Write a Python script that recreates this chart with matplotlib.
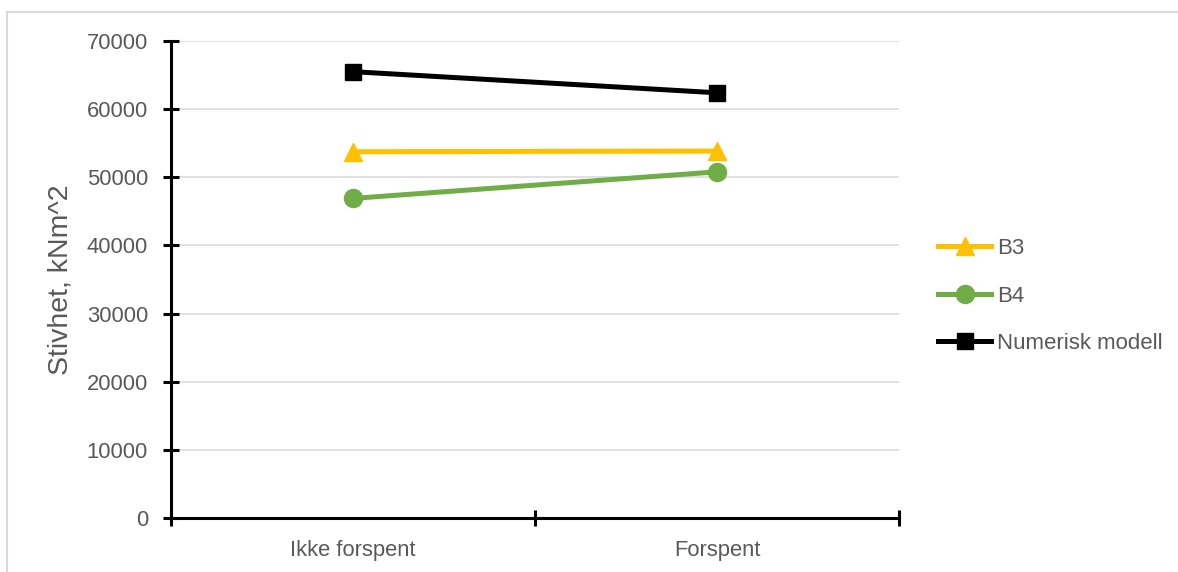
import matplotlib
matplotlib.use("Agg")
import matplotlib.pyplot as plt
from matplotlib.patches import Rectangle

# Data
categories = ["Ikke forspent", "Forspent"]
b3 = [53750, 53850]
b4 = [46900, 50800]
numerisk = [65500, 62400]
series_names = ["B3", "B4", "Numerisk modell"]
y_ticks = [0, 10000, 20000, 30000, 40000, 50000, 60000, 70000]

plt.rcParams["font.family"] = ["Liberation Sans", "DejaVu Sans"]
text_color = "#595959"

fig = plt.figure(figsize=(11.78, 5.72), dpi=100)
ax = fig.add_axes([171 / 1178, 1 - 518 / 572, 728 / 1178, 477 / 572])

# Light frame around the chart area
fig.patches.append(Rectangle((7 / 1178, -0.1), 1.2, 1 - 12 / 572 + 0.1,
                             transform=fig.transFigure, fill=False,
                             edgecolor="#d9d9d9", linewidth=1.5, zorder=0))

x = list(range(len(categories)))
ax.plot(x, b3, color="#ffc000", lw=3.6, marker="^", ms=13, label=series_names[0], zorder=3)
ax.plot(x, b4, color="#70ad47", lw=3.6, marker="o", ms=13, label=series_names[1], zorder=3)
ax.plot(x, numerisk, color="#000000", lw=3.6, marker="s", ms=12, label=series_names[2], zorder=3)

ax.set_xlim(-0.5, 1.5)
ax.set_ylim(0, 70000)
ax.set_yticks(y_ticks)
ax.set_yticklabels([str(v) for v in y_ticks])
ax.set_xticks(x)
ax.set_xticklabels(categories)
ax.set_xticks([-0.5, 0.5, 1.5], minor=True)

ax.grid(axis="y", color="#d9d9d9", lw=1.1, zorder=0)
ax.set_axisbelow(True)

for side in ("top", "right"):
    ax.spines[side].set_visible(False)
for side in ("left", "bottom"):
    ax.spines[side].set_color("black")
    ax.spines[side].set_linewidth(2.2)

ax.tick_params(axis="y", direction="inout", length=11, width=2.2, pad=11,
               labelsize=15.8, labelcolor=text_color, color="black")
ax.tick_params(axis="x", which="major", length=0, pad=16,
               labelsize=15.8, labelcolor=text_color)
ax.tick_params(axis="x", which="minor", direction="inout", length=11, width=2.2,
               color="black")

ax.set_ylabel("Stivhet, kNm^2", fontsize=20.5, color=text_color)
ax.yaxis.set_label_coords(-0.1346, 0.5)

ax.legend(loc="center left", bbox_to_anchor=(938 / 1178, 1 - 296 / 572),
          bbox_transform=fig.transFigure, frameon=False, borderpad=0,
          borderaxespad=0, handlelength=2.4, handletextpad=0.25,
          labelspacing=1.2, fontsize=16, labelcolor=text_color)

fig.savefig("out.png", dpi=100)
